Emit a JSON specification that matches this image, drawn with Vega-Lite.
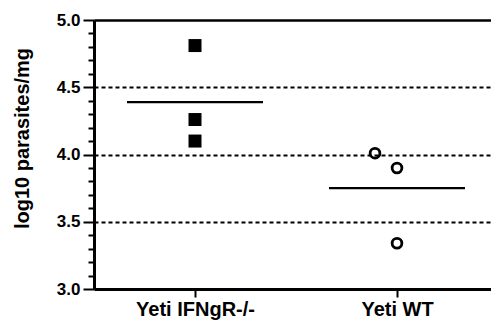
{
  "$schema": "https://vega.github.io/schema/vega-lite/v6.json",
  "width": 404,
  "height": 269,
  "autosize": "none",
  "padding": {"left": 94, "top": 20, "right": 0, "bottom": 31},
  "background": "white",
  "config": {"view": {"stroke": null}, "font": "Liberation Sans"},
  "data": {
    "values": [
      {"group": "Yeti IFNgR-/-", "value": 4.81, "jitter": 0},
      {"group": "Yeti IFNgR-/-", "value": 4.26, "jitter": 0},
      {"group": "Yeti IFNgR-/-", "value": 4.10, "jitter": 0},
      {"group": "Yeti WT", "value": 4.01, "jitter": -1},
      {"group": "Yeti WT", "value": 3.90, "jitter": 0},
      {"group": "Yeti WT", "value": 3.34, "jitter": 0}
    ]
  },
  "encoding": {
    "x": {
      "field": "group", "type": "nominal",
      "sort": ["Yeti IFNgR-/-", "Yeti WT"],
      "scale": {"type": "point", "padding": 0.5},
      "axis": {
        "title": null, "labelAngle": 0, "labelFont": "Liberation Sans", "labelFontSize": 20,
        "labelFontWeight": "bold", "labelColor": "black", "labelPadding": 2,
        "tickSize": 8, "tickWidth": 2, "tickColor": "black",
        "domainColor": "black", "domainWidth": 3, "grid": false
      }
    },
    "y": {
      "field": "value", "type": "quantitative",
      "scale": {"domain": [3, 5], "nice": false, "zero": false},
      "axis": {
        "title": "log10 parasites/mg", "titleFont": "Liberation Sans", "titleFontSize": 20,
        "titleFontWeight": "bold", "titleColor": "black", "titleAngle": 270,
        "titleX": -66, "titleY": 118, "titleAlign": "center", "titleBaseline": "alphabetic",
        "values": [3, 3.1, 3.2, 3.3, 3.4, 3.5, 3.6, 3.7, 3.8, 3.9, 4, 4.1, 4.2, 4.3, 4.4, 4.5, 4.6, 4.7, 4.8, 4.9, 5],
        "labelExpr": "abs(datum.value*2-round(datum.value*2))<0.01 ? format(datum.value,'.1f') : ''",
        "labelFont": "Liberation Sans", "labelFontSize": 17, "labelFontWeight": "bold", "labelColor": "black",
        "labelPadding": 3, "labelOverlap": false, "labelFlush": false, "labelBound": false,
        "tickSize": {"condition": {"test": "abs(datum.value*2-round(datum.value*2))<0.01", "value": 11}, "value": 6},
        "tickWidth": 2, "tickColor": "black",
        "domainColor": "black", "domainWidth": 3,
        "grid": true, "gridColor": "black",
        "gridDash": {"condition": {"test": "datum.value>4.99", "value": []}, "value": [4, 3]},
        "gridWidth": {"condition": {"test": "datum.value>4.99", "value": 2.5}, "value": 2},
        "gridOpacity": {"condition": {"test": "abs(datum.value*2-round(datum.value*2))<0.01 && datum.value>3.01", "value": 1}, "value": 0}
      }
    }
  },
  "layer": [
    {
      "transform": [{"aggregate": [{"op": "mean", "field": "value", "as": "value"}], "groupby": ["group"]}],
      "mark": {"type": "tick", "size": 136, "thickness": 2.3, "color": "black", "opacity": 1}
    },
    {
      "transform": [{"filter": "datum.group === 'Yeti IFNgR-/-'"}],
      "mark": {"type": "point", "shape": "square", "filled": true, "size": 169, "color": "black", "opacity": 1}
    },
    {
      "transform": [{"filter": "datum.group === 'Yeti WT'"}],
      "mark": {"type": "point", "shape": "circle", "filled": false, "size": 95, "stroke": "black", "strokeWidth": 2.8, "opacity": 1},
      "encoding": {
        "xOffset": {"field": "jitter", "type": "quantitative", "scale": {"domain": [-1, 1], "range": [-22, 22]}}
      }
    }
  ]
}
